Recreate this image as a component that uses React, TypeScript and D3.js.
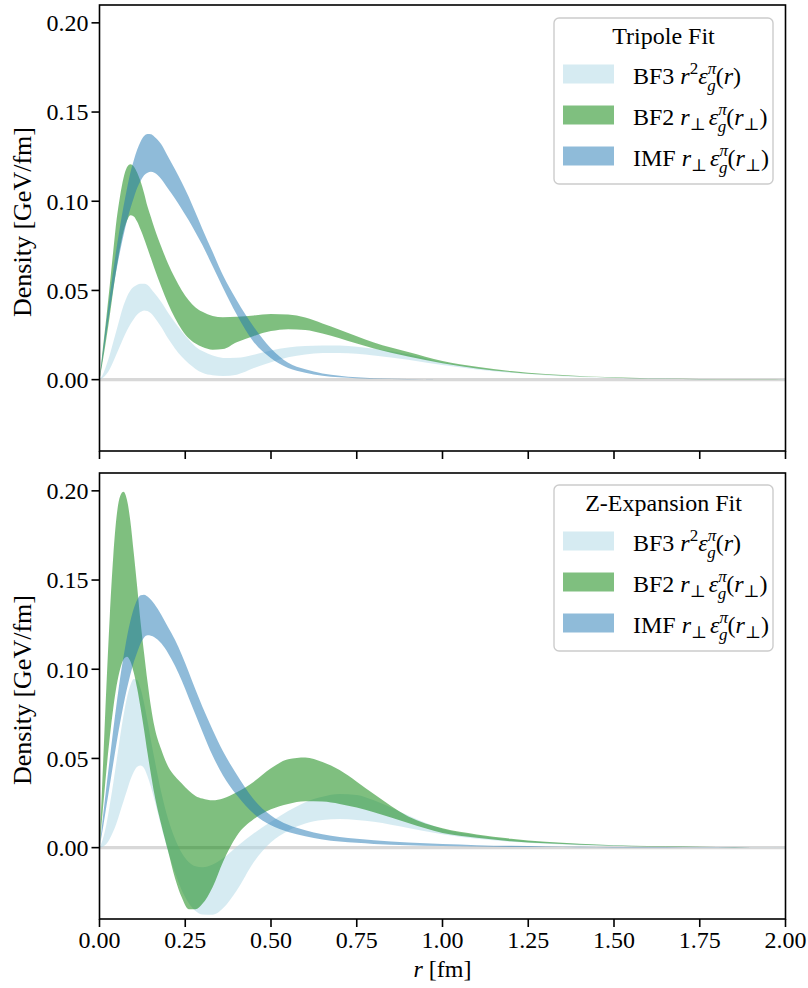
import React from 'react';
import * as d3 from 'd3';

// radial grid (fm)
const R = [0, 0.01, 0.02, 0.03, 0.04, 0.05, 0.06, 0.07, 0.08, 0.09,
  0.1, 0.11, 0.12, 0.13, 0.14, 0.15, 0.16, 0.18, 0.2, 0.22,
  0.24, 0.26, 0.28, 0.3, 0.33, 0.36, 0.4, 0.45, 0.5, 0.55,
  0.6, 0.65, 0.7, 0.75, 0.8, 0.9, 1.0, 1.1, 1.2, 1.3,
  1.4, 1.5, 1.6, 1.7, 1.8, 1.9, 2.0];

// ---------- Tripole fit ----------
const TRI_BF3_LO = [0, 0.001, 0.003, 0.006, 0.01, 0.0145, 0.019, 0.0235, 0.0275, 0.031,
  0.034, 0.0365, 0.038, 0.0388, 0.0385, 0.0372, 0.035, 0.0295, 0.023, 0.0175,
  0.0128, 0.009, 0.006, 0.0038, 0.0024, 0.002, 0.0028, 0.0065, 0.0098, 0.0125,
  0.0141, 0.0149, 0.015, 0.0145, 0.0135, 0.0112, 0.0082, 0.0057, 0.0038, 0.0024,
  0.0015, 0.0009, 0.0005, 0.0003, 0.0002, 0.0001, 0];
const TRI_BF3_HI = [0, 0.003, 0.008, 0.014, 0.021, 0.028, 0.035, 0.0415, 0.0465, 0.05,
  0.052, 0.0532, 0.0538, 0.0537, 0.053, 0.051, 0.0485, 0.0435, 0.0375, 0.032,
  0.027, 0.0225, 0.0185, 0.016, 0.0135, 0.0122, 0.0123, 0.014, 0.0163, 0.018,
  0.0188, 0.0192, 0.0191, 0.0184, 0.0173, 0.0142, 0.0097, 0.0066, 0.0043, 0.0027,
  0.0017, 0.001, 0.0006, 0.0004, 0.0002, 0.0001, 0.0001];
const TRI_BF2_LO = [0, 0.011, 0.023, 0.036, 0.05, 0.063, 0.074, 0.083, 0.089, 0.0922,
  0.0915, 0.0885, 0.084, 0.079, 0.0735, 0.068, 0.0625, 0.052, 0.0425, 0.0345,
  0.028, 0.0232, 0.0202, 0.0183, 0.0168, 0.0172, 0.021, 0.0245, 0.0272, 0.0283,
  0.0278, 0.0258, 0.0232, 0.0202, 0.0175, 0.013, 0.0092, 0.0063, 0.0042, 0.0027,
  0.0017, 0.0011, 0.0007, 0.0004, 0.0002, 0.0001, 0.0001];
const TRI_BF2_HI = [0, 0.018, 0.035, 0.053, 0.072, 0.09, 0.103, 0.113, 0.119, 0.1208,
  0.1195, 0.116, 0.111, 0.1045, 0.097, 0.091, 0.085, 0.0745, 0.065, 0.057,
  0.05, 0.0445, 0.0405, 0.038, 0.0357, 0.035, 0.0352, 0.036, 0.0368, 0.0365,
  0.0348, 0.0315, 0.028, 0.0243, 0.0208, 0.0155, 0.0105, 0.0072, 0.0048, 0.0031,
  0.002, 0.0013, 0.0008, 0.0005, 0.0003, 0.0002, 0.0001];
const TRI_IMF_LO = [0, 0.013, 0.026, 0.039, 0.051, 0.062, 0.072, 0.081, 0.089, 0.096,
  0.102, 0.1075, 0.1115, 0.1145, 0.116, 0.1165, 0.116, 0.1125, 0.107, 0.1015,
  0.0955, 0.0893, 0.0825, 0.0755, 0.0635, 0.0515, 0.0365, 0.021, 0.012, 0.0065,
  0.0038, 0.0022, 0.0013, 0.0008, 0.0005, 0.0002, 0.0001, 0, 0, 0,
  0, 0, 0, 0, 0, 0, 0];
const TRI_IMF_HI = [0, 0.016, 0.032, 0.047, 0.061, 0.074, 0.086, 0.097, 0.107, 0.116,
  0.123, 0.129, 0.1335, 0.1365, 0.1377, 0.1375, 0.1362, 0.132, 0.125, 0.118,
  0.1105, 0.1025, 0.0935, 0.0845, 0.0715, 0.0585, 0.0445, 0.0295, 0.0175, 0.0095,
  0.0058, 0.0035, 0.0022, 0.0013, 0.0008, 0.0003, 0.0001, 0, 0, 0,
  0, 0, 0, 0, 0, 0, 0];

// ---------- Z-expansion fit ----------
const ZEX_BF3_LO = [0, 0.0005, 0.002, 0.005, 0.009, 0.014, 0.02, 0.026, 0.032, 0.038,
  0.0425, 0.0453, 0.046, 0.0445, 0.04, 0.034, 0.027, 0.012, -0.002, -0.014,
  -0.024, -0.031, -0.0355, -0.0375, -0.0376, -0.034, -0.024, -0.008, 0.003, 0.0095,
  0.0135, 0.0155, 0.016, 0.0155, 0.0145, 0.011, 0.0075, 0.005, 0.0033, 0.0022,
  0.0014, 0.0009, 0.0006, 0.0004, 0.0002, 0.0001, 0];
const ZEX_BF3_HI = [0, 0.005, 0.013, 0.024, 0.036, 0.049, 0.062, 0.074, 0.084, 0.091,
  0.0945, 0.094, 0.089, 0.081, 0.071, 0.06, 0.05, 0.031, 0.016, 0.005,
  -0.003, -0.008, -0.0105, -0.011, -0.0095, -0.006, 0.0005, 0.008, 0.0145, 0.0205,
  0.0255, 0.0285, 0.03, 0.0295, 0.0265, 0.018, 0.0105, 0.007, 0.0046, 0.003,
  0.002, 0.0013, 0.0008, 0.0005, 0.0003, 0.0002, 0.0001];
const ZEX_BF2_LO = [0, 0.022, 0.043, 0.062, 0.078, 0.091, 0.1, 0.1055, 0.107, 0.1045,
  0.098, 0.089, 0.078, 0.066, 0.053, 0.041, 0.03, 0.013, -0.002, -0.017,
  -0.028, -0.0345, -0.0345, -0.0315, -0.022, -0.008, 0.0065, 0.016, 0.0215, 0.0245,
  0.026, 0.0258, 0.0245, 0.0225, 0.0198, 0.0138, 0.0082, 0.0055, 0.0036, 0.0024,
  0.0016, 0.001, 0.0006, 0.0004, 0.0003, 0.0002, 0.0001];
const ZEX_BF2_HI = [0, 0.045, 0.09, 0.13, 0.163, 0.186, 0.197, 0.1995, 0.195, 0.183,
  0.165, 0.146, 0.126, 0.109, 0.093, 0.079, 0.068, 0.055, 0.0455, 0.04,
  0.036, 0.032, 0.029, 0.0275, 0.0265, 0.0275, 0.031, 0.037, 0.0445, 0.0495,
  0.0505, 0.048, 0.0435, 0.037, 0.03, 0.0175, 0.0108, 0.0074, 0.005, 0.0033,
  0.0022, 0.0014, 0.0009, 0.0006, 0.0004, 0.0002, 0.0001];
const ZEX_IMF_LO = [0, 0.011, 0.023, 0.035, 0.047, 0.059, 0.07, 0.08, 0.089, 0.097,
  0.104, 0.1095, 0.1145, 0.1178, 0.119, 0.1188, 0.118, 0.1145, 0.109, 0.102,
  0.0935, 0.084, 0.0745, 0.065, 0.0515, 0.0405, 0.0295, 0.019, 0.0125, 0.0088,
  0.0064, 0.0046, 0.0034, 0.0027, 0.0021, 0.0013, 0.0009, 0.0006, 0.0004, 0.0003,
  0.0002, 0.0001, 0, 0, 0, 0, 0];
const ZEX_IMF_HI = [0, 0.017, 0.034, 0.05, 0.066, 0.081, 0.095, 0.107, 0.118, 0.127,
  0.134, 0.139, 0.1415, 0.1418, 0.1408, 0.139, 0.1365, 0.1305, 0.1235, 0.1165,
  0.108, 0.0985, 0.0885, 0.079, 0.066, 0.054, 0.041, 0.027, 0.018, 0.0128,
  0.0097, 0.0075, 0.006, 0.005, 0.0041, 0.0029, 0.002, 0.0014, 0.001, 0.0007,
  0.0005, 0.0003, 0.0002, 0.0001, 0.0001, 0, 0];

const X_TICKS = [0, 0.25, 0.5, 0.75, 1.0, 1.25, 1.5, 1.75, 2.0];
const Y_TICKS = [0, 0.05, 0.1, 0.15, 0.2];
const PANEL_TITLES = ['Tripole Fit', 'Z-Expansion Fit'];
const SERIES_NAMES = ['BF3', 'BF2', 'IMF'];
const SERIES_COLORS = ['#add8e6', '#008000', '#1f77b4'];

const W = 808;
const H = 988;
const PL = 99.5;
const PR = 785.5;
const PANEL_Y = [[5, 451], [473, 919]];
const FONT = '"Liberation Serif", "DejaVu Serif", serif';

type Band = { lo: number[]; hi: number[] };

const PANEL_BANDS: Band[][] = [
  [
    { lo: TRI_BF3_LO, hi: TRI_BF3_HI },
    { lo: TRI_BF2_LO, hi: TRI_BF2_HI },
    { lo: TRI_IMF_LO, hi: TRI_IMF_HI },
  ],
  [
    { lo: ZEX_BF3_LO, hi: ZEX_BF3_HI },
    { lo: ZEX_BF2_LO, hi: ZEX_BF2_HI },
    { lo: ZEX_IMF_LO, hi: ZEX_IMF_HI },
  ],
];

function LegendLabel({ idx, x, y }: { idx: number; x: number; y: number }) {
  const fs = 24;
  const ss = 17;
  const it = { fontStyle: 'italic' as const };
  if (idx === 0) {
    return (
      <text x={x} y={y} fontSize={fs} fontFamily={FONT} fill="#000">
        <tspan>BF3 </tspan>
        <tspan {...it}>r</tspan>
        <tspan fontSize={ss} dy={-10}>2</tspan>
        <tspan {...it} dy={10}>ε</tspan>
        <tspan {...it} fontSize={ss} dy={-10}>π</tspan>
        <tspan {...it} fontSize={ss} dx={-9} dy={17}>g</tspan>
        <tspan dy={-7}>(</tspan>
        <tspan {...it}>r</tspan>
        <tspan>)</tspan>
      </text>
    );
  }
  const name = idx === 1 ? 'BF2 ' : 'IMF ';
  return (
    <text x={x} y={y} fontSize={fs} fontFamily={FONT} fill="#000">
      <tspan>{name}</tspan>
      <tspan {...it}>r</tspan>
      <tspan fontSize={ss} dy={5}>⊥</tspan>
      <tspan {...it} dx={3} dy={-5}>ε</tspan>
      <tspan {...it} fontSize={ss} dy={-10}>π</tspan>
      <tspan {...it} fontSize={ss} dx={-9} dy={17}>g</tspan>
      <tspan dy={-7}>(</tspan>
      <tspan {...it}>r</tspan>
      <tspan fontSize={ss} dy={5}>⊥</tspan>
      <tspan dy={-5}>)</tspan>
    </text>
  );
}

function Panel({ p }: { p: number }) {
  const [top, bottom] = PANEL_Y[p];
  const x = d3.scaleLinear().domain([0, 2]).range([PL, PR]);
  const y = d3.scaleLinear().domain([-0.04, 0.21]).range([bottom, top]);
  const clipId = `clip${p}`;
  const bands = PANEL_BANDS[p];

  const lgLeft = 554;
  const lgTop = p === 0 ? 18 : 485;
  const lgW = 219;
  const lgH = 166;
  const titleY = lgTop + 26;
  const rowY = [lgTop + 56, lgTop + 97, lgTop + 138];

  return (
    <g>
      <defs>
        <clipPath id={clipId}>
          <rect x={PL} y={top} width={PR - PL} height={bottom - top} />
        </clipPath>
      </defs>
      <g clipPath={`url(#${clipId})`}>
        <line x1={PL} x2={PR} y1={y(0)} y2={y(0)} stroke="#d8d8d8" strokeWidth={3.2} />
        {bands.map((b, k) => {
          const a = d3
            .area<number>()
            .x((_, i) => x(R[i]))
            .y0((_, i) => y(b.lo[i]))
            .y1((_, i) => y(b.hi[i]))
            .curve(d3.curveMonotoneX);
          return (
            <path key={k} d={a(R) || ''} fill={SERIES_COLORS[k]} fillOpacity={0.5} stroke="none" />
          );
        })}
      </g>
      <rect x={PL} y={top} width={PR - PL} height={bottom - top} fill="none" stroke="#000" strokeWidth={1.6} />
      {Y_TICKS.map((t) => (
        <g key={t}>
          <line x1={PL - 8} x2={PL} y1={y(t)} y2={y(t)} stroke="#000" strokeWidth={1.6} />
          <text x={PL - 11} y={y(t)} dy="0.35em" textAnchor="end" fontSize={24} fontFamily={FONT}>
            {t.toFixed(2)}
          </text>
        </g>
      ))}
      {X_TICKS.map((t) => (
        <g key={t}>
          <line x1={x(t)} x2={x(t)} y1={bottom} y2={bottom + 8} stroke="#000" strokeWidth={1.6} />
          {p === 1 && (
            <text x={x(t)} y={bottom + 29} textAnchor="middle" fontSize={24} fontFamily={FONT}>
              {t.toFixed(2)}
            </text>
          )}
        </g>
      ))}
      <text
        transform={`translate(31, ${(top + bottom) / 2 - 6}) rotate(-90)`}
        textAnchor="middle"
        fontSize={26}
        fontFamily={FONT}
      >
        Density [GeV/fm]
      </text>
      <rect x={lgLeft} y={lgTop} width={lgW} height={lgH} rx={5} fill="#fff" fillOpacity={0.8} stroke="#cccccc" strokeWidth={1.4} />
      <text x={lgLeft + lgW / 2} y={titleY} textAnchor="middle" fontSize={24} fontFamily={FONT}>
        {PANEL_TITLES[p]}
      </text>
      {SERIES_NAMES.map((s, k) => (
        <g key={s}>
          <rect x={563} y={rowY[k] - 9.5} width={51} height={19} fill={SERIES_COLORS[k]} fillOpacity={0.5} />
          <LegendLabel idx={k} x={633} y={rowY[k] + 10} />
        </g>
      ))}
    </g>
  );
}

export default function App() {
  return (
    <svg
      width={W}
      height={H}
      viewBox={`0 0 ${W} ${H}`}
      style={{ position: 'absolute', left: 0, top: 0, background: '#fff' }}
    >
      <rect x={0} y={0} width={W} height={H} fill="#fff" />
      <Panel p={0} />
      <Panel p={1} />
      <text x={(PL + PR) / 2} y={977} textAnchor="middle" fontSize={24} fontFamily={FONT}>
        <tspan fontStyle="italic">r</tspan>
        <tspan> [fm]</tspan>
      </text>
    </svg>
  );
}
